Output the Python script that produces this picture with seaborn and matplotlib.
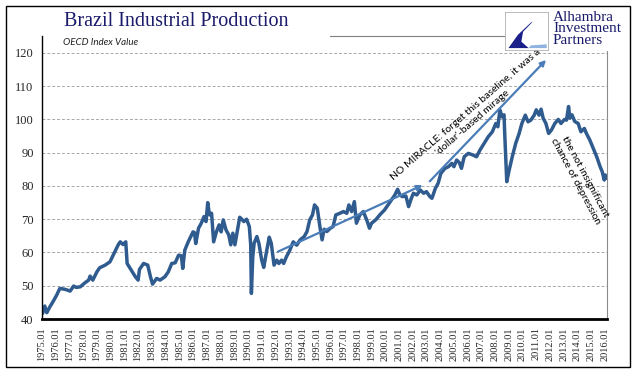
import numpy as np
import pandas as pd
import seaborn as sns
import matplotlib.pyplot as plt
from matplotlib.patches import Rectangle, Polygon

# values (decimal year, OECD index)
years = [
    1975.05, 1975.2, 1975.35, 1975.55, 1975.8, 1976.07, 1976.3, 1976.7, 1977.05, 1977.3,
    1977.5, 1977.8, 1978.1, 1978.4, 1978.5, 1978.7, 1979.0, 1979.2, 1979.6, 1979.95,
    1980.3, 1980.55, 1980.7, 1980.9, 1981.1, 1981.2, 1981.5, 1981.8, 1982.0, 1982.1,
    1982.4, 1982.7, 1982.9, 1983.05, 1983.35, 1983.6, 1983.95, 1984.2, 1984.45, 1984.7,
    1984.95, 1985.15, 1985.25, 1985.4, 1985.65, 1986.0, 1986.1, 1986.2, 1986.4, 1986.6,
    1986.8, 1986.95, 1987.07, 1987.2, 1987.35, 1987.5, 1987.7, 1987.9, 1988.05, 1988.2,
    1988.4, 1988.6, 1988.75, 1988.9, 1989.05, 1989.4, 1989.55, 1989.7, 1989.9, 1990.1,
    1990.2, 1990.25, 1990.35, 1990.45, 1990.65, 1990.8, 1991.0, 1991.15, 1991.35, 1991.55,
    1991.7, 1991.9, 1992.1, 1992.25, 1992.45, 1992.6, 1992.8, 1993.05, 1993.3, 1993.55,
    1993.8, 1994.1, 1994.3, 1994.5, 1994.7, 1994.85, 1995.05, 1995.25, 1995.4, 1995.55,
    1995.75, 1996.0, 1996.2, 1996.4, 1996.7, 1996.95, 1997.2, 1997.35, 1997.55, 1997.75,
    1997.9, 1998.15, 1998.4, 1998.65, 1998.85, 1999.0, 1999.3, 1999.6, 1999.95, 2000.2,
    2000.45, 2000.7, 2000.9, 2001.07, 2001.25, 2001.5, 2001.7, 2001.9, 2002.05, 2002.3,
    2002.55, 2002.8, 2003.0, 2003.25, 2003.4, 2003.65, 2003.85, 2004.05, 2004.35, 2004.6,
    2004.85, 2005.0, 2005.2, 2005.4, 2005.55, 2005.75, 2006.05, 2006.4, 2006.65, 2006.9,
    2007.2, 2007.5, 2007.8, 2008.05, 2008.2, 2008.35, 2008.5, 2008.65, 2008.7, 2008.85,
    2009.0, 2009.25, 2009.5, 2009.75, 2009.95, 2010.2, 2010.4, 2010.6, 2010.85, 2011.0,
    2011.2, 2011.35, 2011.5, 2011.7, 2011.9, 2012.1, 2012.35, 2012.6, 2012.8, 2013.05,
    2013.2, 2013.35, 2013.45, 2013.6, 2013.8, 2014.05, 2014.25, 2014.5, 2014.65, 2014.9,
    2015.15, 2015.4, 2015.65, 2015.8, 2015.95, 2016.03, 2016.12,
]
index_value = [
    41.7, 43.9, 41.9, 43.5, 45.2, 47.2, 49.2, 48.9, 48.4, 49.9,
    49.5, 49.7, 50.8, 51.7, 52.9, 51.7, 54.2, 55.4, 56.2, 57.2,
    60.2, 62.3, 63.2, 62.4, 63.2, 56.7, 54.7, 52.7, 51.7, 54.9,
    56.7, 56.2, 52.7, 50.5, 52.2, 51.7, 52.7, 54.2, 56.7, 56.9,
    59.2, 59.0, 55.2, 60.7, 63.2, 66.2, 66.0, 62.7, 67.3, 68.8,
    70.8, 69.3, 75.0, 71.3, 71.8, 63.2, 66.2, 68.3, 66.2, 69.8,
    66.8, 65.3, 62.3, 65.8, 62.3, 70.6, 70.0, 69.3, 70.0, 67.8,
    62.3, 47.7, 58.7, 62.8, 64.8, 62.7, 57.7, 55.5, 60.2, 64.6,
    62.7, 56.2, 57.7, 56.7, 57.7, 56.7, 58.7, 60.7, 63.2, 62.2,
    63.8, 64.8, 66.3, 69.8, 71.3, 74.3, 73.3, 67.5, 63.8, 67.0,
    66.3, 67.3, 67.8, 71.3, 71.8, 72.3, 71.8, 74.3, 72.3, 75.3,
    68.8, 71.3, 72.3, 69.8, 67.3, 68.8, 69.8, 71.3, 72.8, 74.3,
    75.8, 77.3, 79.0, 77.3, 76.8, 77.0, 73.8, 76.3, 77.8, 77.3,
    78.8, 77.8, 78.3, 76.8, 76.3, 79.3, 80.8, 83.8, 85.3, 85.8,
    86.8, 85.8, 87.8, 87.0, 85.3, 88.8, 89.8, 89.3, 88.8, 90.8,
    92.8, 94.8, 96.3, 98.8, 97.8, 102.9, 100.8, 101.4, 95.8, 81.3,
    84.3, 88.8, 92.8, 95.8, 98.8, 101.3, 99.3, 99.8, 101.3, 102.9,
    101.3, 103.1, 100.4, 98.8, 95.8, 96.8, 98.8, 100.0, 98.8, 100.0,
    99.8, 103.9, 100.4, 101.4, 99.4, 98.8, 96.3, 97.3, 95.8, 93.8,
    91.3, 88.8, 85.8, 84.3, 81.8, 83.3, 82.3,
]
tick_years = list(range(1975, 2017))
tick_labels = [f"{y}.01" for y in tick_years]
y_ticks = [40, 50, 60, 70, 80, 90, 100, 110, 120]

# annotation arrows (start, end) in data units
arrow_low = [(1992.0, 59.9), (2002.9, 80.6)]
arrow_high = [(2003.1, 80.8), (2011.85, 118.5)]

LINE = "#2F5B8F"
ARROW = "#4A7DB8"
NAVY = "#1B1B6B"

df = pd.DataFrame({"year": years, "value": index_value})

sns.set_style("white")
fig = plt.figure(figsize=(6.41, 3.79), dpi=100)
ax = fig.add_axes([42 / 641, 1 - 319 / 379, 565 / 641, 283 / 379])

sns.lineplot(data=df, x="year", y="value", ax=ax, color=LINE, lw=2.5, sort=False)

ax.set_xlim(1975.0, 2016.15)
ax.set_ylim(40, 125.1)
ax.set_xlabel("")
ax.set_ylabel("")

ax.set_yticks(y_ticks)
ax.set_yticklabels([str(v) for v in y_ticks], family="Liberation Serif", fontsize=9)
ax.set_xticks(tick_years)
ax.set_xticklabels(tick_labels, rotation=90, family="Liberation Serif", fontsize=7.5)
ax.set_xticks(np.arange(1975, 2016.2, 0.25), minor=True)
ax.tick_params(axis="x", which="major", direction="out", length=4, width=1.3, color="black", pad=2)
ax.tick_params(axis="x", which="minor", direction="out", length=3, width=1.0, color="black")
ax.tick_params(axis="y", direction="out", length=4, width=0.8, color="black", pad=2)

ax.grid(axis="y", color="#A8A8A8", ls=(0, (3, 2)), lw=0.7)
ax.grid(axis="x", visible=False)
for s in ["left", "bottom"]:
    ax.spines[s].set_color("black")
ax.spines["left"].set_linewidth(1.0)
ax.spines["bottom"].set_linewidth(2.0)
ax.spines["top"].set_visible(False)
ax.spines["right"].set_color("#8C8C8C")
ax.spines["right"].set_linewidth(0.8)

ax.annotate("", xy=arrow_low[1], xytext=arrow_low[0],
            arrowprops=dict(arrowstyle="-|>", color=ARROW, lw=1.6, mutation_scale=8))
ax.annotate("", xy=arrow_high[1], xytext=arrow_high[0],
            arrowprops=dict(arrowstyle="-|>", color=ARROW, lw=1.6, mutation_scale=8))

ax.text(2006.1, 100.2, "NO MIRACLE: forget this baseline, it was a\n'dollar'-based mirage",
        rotation=41, rotation_mode="anchor", ha="center", va="center",
        family="Lato", fontsize=7.5, color="black", linespacing=1.25)
ax.text(2014.18, 82.1, "the not insignificant\nchance of depression",
        rotation=-62, rotation_mode="anchor", ha="center", va="center",
        family="Lato", fontsize=7.5, color="black", linespacing=1.25)

ax.text(1976.5, 123.2, "OECD Index Value", family="Lato", style="italic",
        fontsize=7, ha="left", va="center", color="#222222")

# title and frame
fig.text(176 / 641, 1 - 21 / 379, "Brazil Industrial Production", family="Liberation Serif",
         fontsize=14.5, color=NAVY, ha="center", va="center")
fig.add_artist(plt.Line2D([330 / 641, 505 / 641], [1 - 36 / 379] * 2,
                          color="#808080", lw=0.8, transform=fig.transFigure))
fig.add_artist(Rectangle((6 / 641, 1 - 367 / 379), 624 / 641, 361 / 379, fill=False,
                         ec="black", lw=1.0, transform=fig.transFigure))

# logo block
fig.add_artist(Rectangle((540 / 641, 1 - 51 / 379), 87 / 641, 43 / 379, fc="white",
                         ec="none", transform=fig.transFigure, zorder=5))
lax = fig.add_axes([505 / 641, 1 - 50 / 379, 43 / 641, 38 / 379], zorder=6)
lax.set_xlim(0, 1)
lax.set_ylim(0, 1)
lax.set_xticks([])
lax.set_yticks([])
for s in lax.spines.values():
    s.set_color("#B0B0B0")
    s.set_linewidth(0.6)
lax.add_patch(Polygon([(0.97, 0.95), (0.6, 0.72), (0.3, 0.4), (0.08, 0.05),
                       (0.55, 0.05), (0.38, 0.22), (0.42, 0.48), (0.65, 0.75)],
                      closed=True, fc="#1A1F8A", ec="none"))
lax.add_patch(Polygon([(0.55, 0.05), (0.97, 0.05), (0.97, 0.15), (0.6, 0.12)],
                      closed=True, fc="#8FB2DE", ec="none"))
fig.text(553 / 641, 1 - 29 / 379, "Alhambra\nInvestment\nPartners", family="Liberation Serif",
         fontsize=11, color=NAVY, ha="left", va="center", linespacing=0.88, zorder=7)

fig.savefig("out.png", dpi=100)
